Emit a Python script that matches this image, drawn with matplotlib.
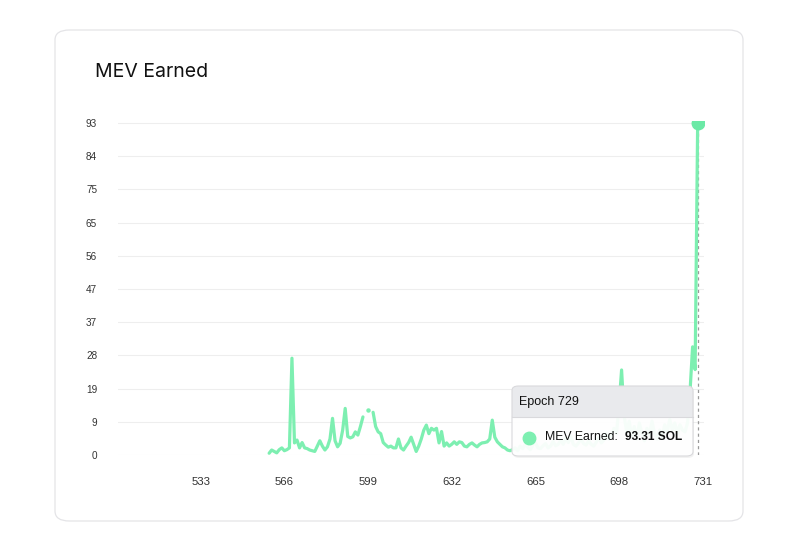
import numpy as np
import matplotlib
matplotlib.use('Agg')
import matplotlib.pyplot as plt
from matplotlib.patches import FancyBboxPatch
from matplotlib.lines import Line2D

# dados do grafico
primeira_epoca = 560
mev = [0.5, 1.4, 1.0, 0.6, 1.5, 2.0, 1.2, 1.5, 2.0, 27.2,
       3.4, 4.2, 2.0, 3.5, 2.0, 1.8, 1.4, 1.2, 1.0, 2.5,
       4.0, 2.5, 1.4, 2.3, 4.5, 10.3, 4.0, 2.3, 3.3, 7.0,
       13.1, 5.2, 4.8, 5.1, 6.5, 5.6, 8.0, 10.7, None, 12.6,
       None, 12.0, 8.0, 6.5, 6.0, 3.5, 2.8, 2.2, 2.5, 2.0,
       2.0, 4.5, 2.0, 1.4, 2.5, 3.5, 5.0, 3.0, 1.0, 2.5,
       4.5, 7.0, 8.4, 6.0, 7.5, 7.0, 7.5, 3.4, 6.6, 2.5,
       3.4, 2.5, 3.0, 3.7, 3.0, 3.7, 3.5, 2.5, 2.3, 3.0,
       3.4, 2.8, 2.3, 3.0, 3.4, 3.5, 3.7, 4.5, 9.8, 5.0,
       3.7, 3.0, 2.3, 2.0, 1.4, 1.2, 1.5, 2.0, 1.2, 2.5,
       1.8, 3.0, 2.2, 1.5, 2.8, 3.5, 2.0, 1.8, 2.6, 3.2,
       2.0, 2.5, 3.8, 2.6, 3.0, 4.2, 3.0, 4.8, 3.5, 5.2,
       3.0, 2.5, 3.4, 4.5, 3.2, 2.8, 4.0, 3.0, 2.5, 3.6,
       5.0, 3.4, 4.2, 6.0, 4.5, 5.5, 7.5, 6.0, 14.0, 23.9,
       11.0, 6.5, 9.5, 5.0, 8.0, 4.5, 9.0, 6.0, 4.0, 7.5,
       5.5, 9.5, 6.0, 4.5, 7.0, 5.0, 8.5, 6.5, 10.0, 7.0,
       9.0, 6.0, 8.5, 7.0, 6.5, 9.0, 18.0, 30.4, 24.0, 93.31]

ticks_x = [533, 566, 599, 632, 665, 698, 731]
epoca_tooltip = 729

titulo = 'MEV Earned'
rotulo_serie = 'MEV Earned:'

cor_linha = '#7DEFB1'
cor_ponto = '#6BE9A6'

W, H = 796, 555


def px(x, y):
    # converte pixel (origem em cima) para coordenadas da figura
    return x / W, 1 - y / H


def main():
    epocas = np.arange(primeira_epoca, primeira_epoca + len(mev))
    valores = np.array([np.nan if v is None else v for v in mev], dtype=float)
    ymax = np.nanmax(valores)

    fig = plt.figure(figsize=(W / 100, H / 100), dpi=100)
    fig.patch.set_facecolor('white')

    # cartao com borda arredondada
    cartao = FancyBboxPatch((55 / W, 34 / H), 688 / W, 491 / H,
                            boxstyle='round,pad=0,rounding_size=0.018',
                            transform=fig.transFigure, facecolor='white',
                            edgecolor='#e4e4e7', linewidth=0.9, zorder=0)
    fig.add_artist(cartao)

    fig.text(*px(95, 72), titulo, fontsize=14, family=['Inter', 'DejaVu Sans'],
             color='#111111', va='center', ha='left')

    # eixo principal
    esq, dir_, topo, base = 118, 704, 120.5, 455
    ax = fig.add_axes([esq / W, 1 - base / H, (dir_ - esq) / W, (base - topo) / H])
    ax.set_facecolor('none')

    ax.plot(epocas, valores, color=cor_linha, linewidth=2.3,
            solid_joinstyle='round', solid_capstyle='round', zorder=3)

    # pontos isolados (vizinhos sem dado)
    vizinho_esq = np.r_[np.nan, valores[:-1]]
    vizinho_dir = np.r_[valores[1:], np.nan]
    isolados = np.isfinite(valores) & np.isnan(vizinho_esq) & np.isnan(vizinho_dir)
    ax.plot(epocas[isolados], valores[isolados], 'o', color=cor_linha,
            markersize=2.2, zorder=3)

    # ponto e linha do tooltip
    i = list(epocas).index(epoca_tooltip)
    ax.axvline(epoca_tooltip, color='#9a9a9a', linewidth=0.9,
               linestyle=(0, (2.5, 2.5)), zorder=2)
    ax.plot([epoca_tooltip], [valores[i]], 'o', color=cor_ponto,
            markersize=9, zorder=4)

    yticks = np.linspace(0, ymax, 11)
    ax.set_yticks(yticks)
    ax.set_yticklabels(['%d' % round(v) for v in yticks])
    ax.set_xticks(ticks_x)
    ax.set_xticklabels([str(t) for t in ticks_x])
    ax.set_xlim(500.4, 731.5)
    ax.set_ylim(0, ymax + 2.5 / 3.558)

    ax.grid(axis='y', color='#eeeeee', linewidth=0.8)
    ax.set_axisbelow(True)
    for s in ax.spines.values():
        s.set_visible(False)
    ax.tick_params(axis='y', length=0, pad=15, labelsize=7.2, labelcolor='#333333')
    ax.tick_params(axis='x', length=0, pad=16, labelsize=8.2, labelcolor='#333333')
    for lab in ax.get_xticklabels() + ax.get_yticklabels():
        lab.set_family(['Liberation Sans', 'DejaVu Sans'])

    # tooltip
    tx0, ty0, tx1, ty1 = 512, 386, 693, 456
    cab = 417
    sombra = FancyBboxPatch(px(tx0 + 1, ty1 + 2), (tx1 - tx0) / W, (ty1 - ty0) / H,
                            boxstyle='round,pad=0,rounding_size=0.008',
                            transform=fig.transFigure, facecolor='#000000',
                            alpha=0.05, edgecolor='none', zorder=9)
    corpo = FancyBboxPatch(px(tx0, ty1), (tx1 - tx0) / W, (ty1 - ty0) / H,
                           boxstyle='round,pad=0,rounding_size=0.008',
                           transform=fig.transFigure, facecolor='white',
                           alpha=0.94, edgecolor='none', zorder=10)
    cabecalho = FancyBboxPatch(px(tx0, cab), (tx1 - tx0) / W, (cab - ty0) / H,
                               boxstyle='round,pad=0,rounding_size=0.008',
                               transform=fig.transFigure, facecolor='#e9eaed',
                               edgecolor='none', zorder=11)
    # tira reta na parte de baixo do cabecalho
    faixa = FancyBboxPatch(px(tx0, cab), (tx1 - tx0) / W, 8 / H,
                           boxstyle='square,pad=0', transform=fig.transFigure,
                           facecolor='#e9eaed', edgecolor='none', zorder=11)
    borda = FancyBboxPatch(px(tx0, ty1), (tx1 - tx0) / W, (ty1 - ty0) / H,
                           boxstyle='round,pad=0,rounding_size=0.008',
                           transform=fig.transFigure, facecolor='none',
                           edgecolor='#d9d9dc', linewidth=0.8, zorder=12)
    for p in [sombra, corpo, cabecalho, faixa, borda]:
        fig.add_artist(p)
    fig.add_artist(Line2D([tx0 / W, tx1 / W], [1 - cab / H, 1 - cab / H],
                          transform=fig.transFigure, color='#d9d9dc',
                          linewidth=0.8, zorder=12))

    fonte = ['Liberation Sans', 'DejaVu Sans']
    fig.text(*px(519, 401.5), 'Epoch %d' % epoca_tooltip, fontsize=9, family=fonte,
             color='#111111', va='center', ha='left', zorder=13)
    cx, cy = px(528.5, 437.5)
    fig.add_artist(Line2D([cx], [cy], marker='o', markersize=9, color=cor_linha,
                          linestyle='none', transform=fig.transFigure, zorder=13))
    fig.text(*px(545, 437.5), rotulo_serie, fontsize=8.8, family=fonte,
             color='#111111', va='center', ha='left', zorder=13)
    fig.text(*px(625, 437.5), '%.2f SOL' % valores[i], fontsize=8.6, family=fonte,
             fontweight='bold', color='#111111', va='center', ha='left', zorder=13)

    fig.savefig('out.png', dpi=100, facecolor='white')


if __name__ == "__main__":
    main()
